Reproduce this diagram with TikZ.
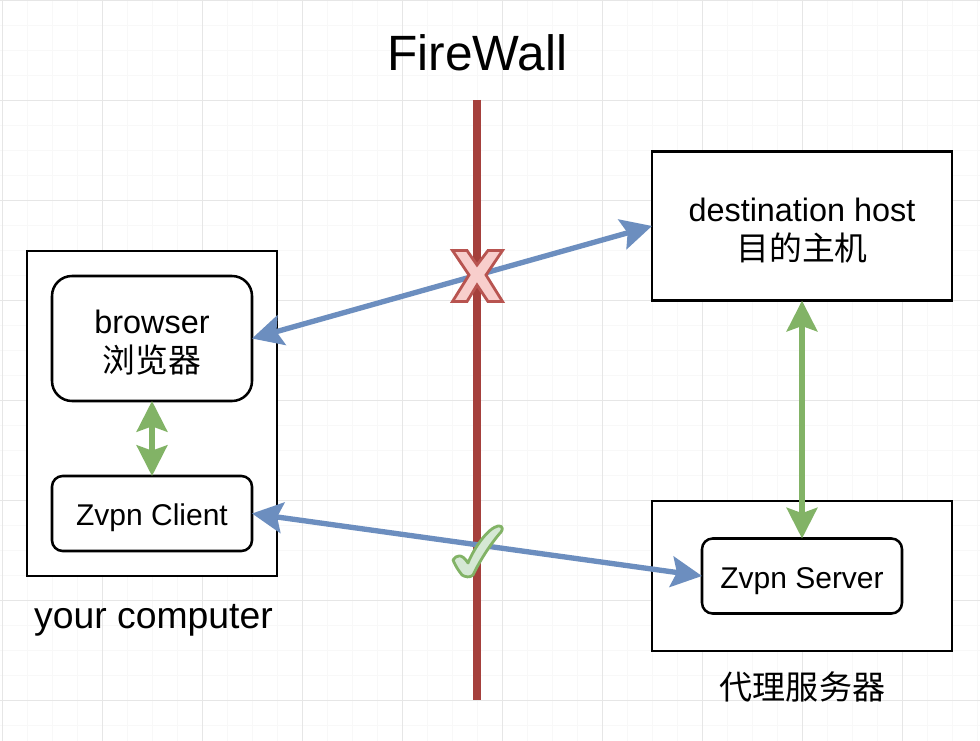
\documentclass[tikz,border=0pt]{standalone}
\usepackage{fontspec}
\setmainfont{Liberation Sans}
\newfontfamily\cjk{Noto Sans CJK SC}
\usetikzlibrary{arrows.meta}
\definecolor{gridminor}{HTML}{F8F8F8}
\definecolor{gridmajor}{HTML}{E6E6E6}
\definecolor{wallred}{HTML}{A5403C}
\definecolor{xfill}{HTML}{F8CECC}
\definecolor{xline}{HTML}{B85450}
\definecolor{okfill}{HTML}{D5E8D4}
\definecolor{okline}{HTML}{82B366}
\definecolor{bluearrow}{HTML}{6C8EBF}
\newcommand{\lift}[1]{\rule{0pt}{#1}}
\tikzset{
  x=0.75pt,y=-0.75pt,
  bx/.style={draw=black,fill=white,line width=1.9pt,inner sep=0pt,outer sep=0pt,align=center,text=black},
  sharpbox/.style={bx,rectangle},
  roundbox/.style={bx,rectangle},
  lbl/.style={inner sep=0pt,outer sep=0pt,align=center,text=black},
  bluelink/.style={draw=bluearrow,line width=4pt,{Stealth[length=23pt,width=23pt,inset=4pt]}-{Stealth[length=23pt,width=23pt,inset=4pt]}},
  greenlink/.style={draw=okline,line width=4pt,{Stealth[length=23pt,width=23pt,inset=4pt]}-{Stealth[length=23pt,width=23pt,inset=4pt]}},
  f24/.style={font=\fontsize{24.3}{29.3}\selectfont},
  f22/.style={font=\fontsize{22.5}{27}\selectfont},
}
\begin{document}
\begin{tikzpicture}
\useasboundingbox (0,0) rectangle (980,741);
\fill[white] (0,0) rectangle (980,741);
% grid
\foreach \k in {0,...,39}{\draw[gridminor,line width=.75pt] ({2.5+25*\k},0) -- ({2.5+25*\k},741);}
\foreach \k in {0,...,29}{\draw[gridminor,line width=.75pt] (0,{0.5+25*\k}) -- (980,{0.5+25*\k});}
\foreach \k in {0,...,9}{\draw[gridmajor,line width=.75pt] ({2.5+100*\k},0) -- ({2.5+100*\k},741);}
\foreach \k in {0,...,7}{\draw[gridmajor,line width=.75pt] (0,{0.5+100*\k}) -- (980,{0.5+100*\k});}
% title
\node[lbl,font=\fontsize{37.2}{44}\selectfont] (title) at (477.5,53) {FireWall};
% wall
\coordinate (walltop) at (477,100);
\coordinate (wallbot) at (477,700);
\draw[wallred,line width=6pt] (walltop) -- (wallbot);
% boxes
\node[sharpbox,minimum width=187.5pt,minimum height=243.75pt] (computer) at (152,413.5) {};
\node[roundbox,rounded corners=15pt,minimum width=150pt,minimum height=93.75pt,f24] (browser) at (152,338.5) {\lift{24pt}browser\\{\cjk\fontsize{24.6}{29.3}\selectfont 浏览器}};
\node[roundbox,rounded corners=8pt,minimum width=150pt,minimum height=56.25pt,f22] (client) at (152,513.5) {\lift{22.5pt}Zvpn Client};
\node[sharpbox,minimum width=225pt,minimum height=112pt,f24] (dest) at (802,226) {\lift{25pt}destination host\\{\cjk\fontsize{24.6}{29.3}\selectfont 目的主机}};
\node[sharpbox,minimum width=225pt,minimum height=112.5pt] (proxy) at (802,576) {};
\node[roundbox,rounded corners=8pt,minimum width=150pt,minimum height=56.25pt,f22] (server) at (802,576) {\lift{24pt}Zvpn Server};
% labels
\node[lbl,font=\fontsize{28}{33}\selectfont] (yourpc) at (153.5,620) {your computer};
\node[lbl,font=\fontsize{24.8}{29}\selectfont] (proxylabel) at (802.5,687) {\cjk 代理服务器};
% connectors
\draw[bluelink] (browser.east) -- (dest.west);
\draw[bluelink] (client.east) -- (server.west);
\draw[greenlink] (browser.south) -- (client.north);
\draw[greenlink] (dest.south) -- (server.north);
% marks
\draw[xline,fill=xfill,line width=2.1pt,line join=miter] (452.5,250.5) -- (467,250.5) -- (477,265) -- (488,250.5) -- (502.5,250.5) -- (486,275) -- (502.5,301.5) -- (488,301.5) -- (477,285) -- (467,301.5) -- (452.5,301.5) -- (469,275) -- cycle;
\draw[okline,fill=okfill,line width=2.1pt,line join=round] (453,560) .. controls (456,555) and (462,553) .. (468,563) .. controls (474,548) and (488,528) .. (498,526) .. controls (503,525) and (503,530) .. (501,532) .. controls (492,542) and (480,560) .. (473,575) .. controls (470,578) and (465,577) .. (462,575) .. controls (458,570) and (455,565) .. (453,560) -- cycle;
\end{tikzpicture}
\end{document}
